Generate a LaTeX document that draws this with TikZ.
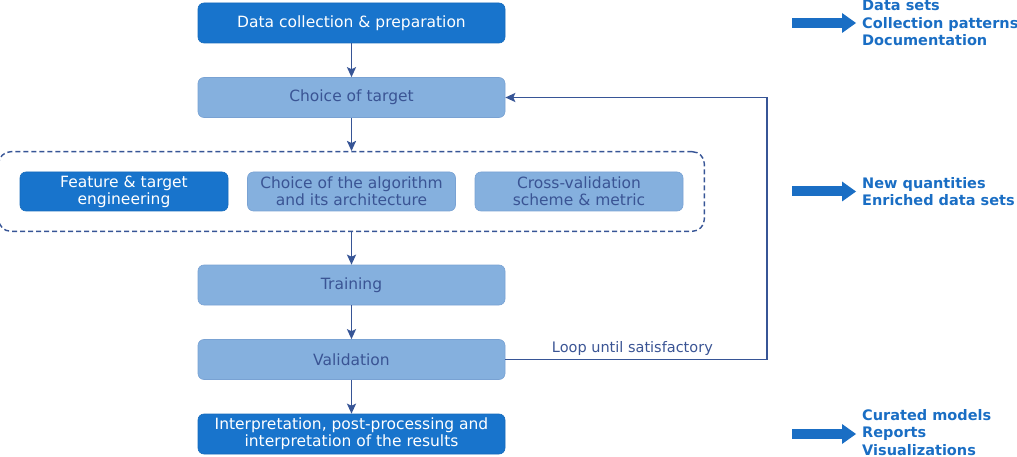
\documentclass[tikz,border=0pt]{standalone}
\usepackage{fontspec}
\setmainfont{DejaVu Sans}
\usetikzlibrary{arrows.meta,fit,positioning}

\definecolor{darkbox}{RGB}{24,116,204}
\definecolor{lightbox}{RGB}{133,176,222}
\definecolor{boxtext}{RGB}{58,84,148}
\definecolor{linecol}{RGB}{55,85,150}
\definecolor{outcol}{RGB}{26,110,196}

\tikzset{
    darkstep/.style={draw=darkbox!92!black, fill=darkbox, text=white, rounded corners=6pt,
        minimum width=307pt, minimum height=40pt, align=center, line width=0.6pt,
        font=\fontsize{15.5}{17}\selectfont},
    lightstep/.style={darkstep, draw=lightbox!85!linecol, fill=lightbox, text=boxtext},
    smallstep/.style={minimum width=208pt, minimum height=39pt},
    flow/.style={draw=linecol, line width=1.9pt},
    group/.style={draw=linecol, line width=1.4pt, dash pattern=on 5pt off 3pt,
        rounded corners=12pt, inner xsep=21pt, inner ysep=20pt},
    outtext/.style={anchor=west, align=left, text=outcol, inner xsep=6pt, inner ysep=0pt,
        font=\fontsize{14.5}{17.5}\selectfont\bfseries},
    bigarrow/.style={draw=outcol, line width=10pt,
        -{Triangle[length=14pt,width=20pt,line width=0pt]}}
}

\begin{document}
\begin{tikzpicture}[x=1pt,y=-1pt,>={Stealth[length=10pt,width=9pt,inset=2pt]}]

    \useasboundingbox (0,0) rectangle (1017,457);

    % Main steps
    \node[darkstep] (collect) at (351.5,23) {Data collection \& preparation};
    \node[lightstep] (target) at (351.5,97.5) {Choice of target};

    % Modelling group
    \node[darkstep, smallstep] (feature) at (124,191.5) {Feature \& target\\engineering};
    \node[lightstep, smallstep] (algo) at (351.5,191.5) {Choice of the algorithm\\and its architecture};
    \node[lightstep, smallstep] (cv) at (579,191.5) {Cross-validation\\scheme \& metric};
    \node[group, fit=(feature)(algo)(cv)] (model) {};

    \node[lightstep] (train) at (351.5,285) {Training};
    \node[lightstep] (valid) at (351.5,359.5) {Validation};
    \node[darkstep] (interp) at (351.5,434) {Interpretation, post-processing and\\interpretation of the results};

    % Flow arrows
    \draw[flow,->] (collect) -- (target);
    \draw[flow,->] (target) -- (model);
    \draw[flow,->] (model) -- (train);
    \draw[flow,->] (train) -- (valid);
    \draw[flow,->] (valid) -- (interp);

    % Loop back
    \draw[flow,->] (valid.east) -- node[above, pos=0.485, text=boxtext, inner sep=3pt,
        font=\fontsize{14.5}{17}\selectfont] {Loop until satisfactory} ++(262,0) |- (target.east);

    % Outputs
    \node[outtext] (outdata) at (856,23) {Data sets\\Collection patterns\\Documentation};
    \node[outtext] (outmodel) at (856,191.5) {New quantities\\Enriched data sets};
    \node[outtext] (outresult) at (856,432.5) {Curated models\\Reports\\Visualizations};
    \coordinate (startdata) at (792,23);
    \coordinate (startmodel) at (792,191.5);
    \coordinate (startresult) at (792,434);
    \draw[bigarrow] (startdata) -- (outdata.west);
    \draw[bigarrow] (startmodel) -- (outmodel.west);
    \draw[bigarrow] (startresult) -- (startresult -| outresult.west);

\end{tikzpicture}
\end{document}
